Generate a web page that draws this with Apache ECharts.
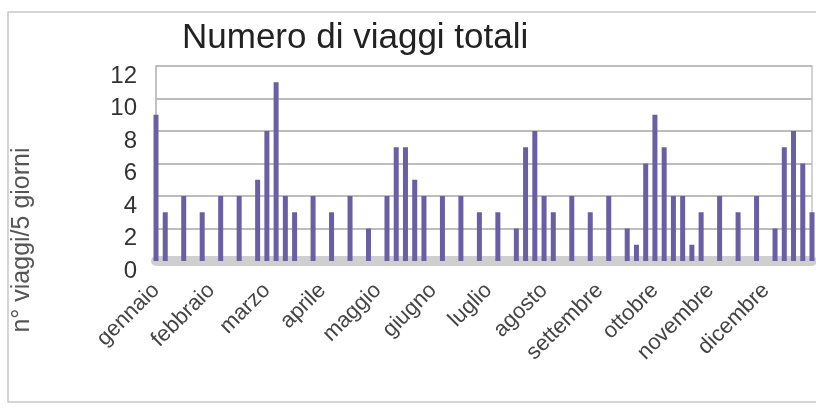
<!DOCTYPE html>
<html>
<head>
<meta charset="utf-8">
<script src="https://cdn.jsdelivr.net/npm/echarts@6/dist/echarts.min.js"></script>
<style>
  html, body { margin: 0; padding: 0; background: #fff; }
  #main { width: 816px; height: 410px; }
</style>
</head>
<body>
<div id="main"></div>
<script>
// mesi mostrati sull'asse (uno ogni 6 intervalli da 5 giorni)
var months = ['gennaio', 'febbraio', 'marzo', 'aprile', 'maggio', 'giugno',
  'luglio', 'agosto', 'settembre', 'ottobre', 'novembre', 'dicembre'];

// n° viaggi per ogni intervallo di 5 giorni
var viaggi = [9, 3, 0, 4, 0, 3, 0, 4, 0, 4, 0, 5, 8, 11, 4, 3, 0, 4, 0, 3, 0, 4, 0, 2,
  0, 4, 7, 7, 5, 4, 0, 4, 0, 4, 0, 3, 0, 3, 0, 2, 7, 8, 4, 3, 0, 4, 0, 3,
  0, 4, 0, 2, 1, 6, 9, 7, 4, 4, 1, 3, 0, 4, 0, 3, 0, 4, 0, 2, 7, 8, 6, 3];

var yTicks = [0, 2, 4, 6, 8, 10, 12];

var categories = viaggi.map(function (v, i) {
  return i % 6 === 0 ? months[i / 6] : '';
});

var chart = echarts.init(document.getElementById('main'), null, { renderer: 'canvas' });

var option = {
  backgroundColor: '#ffffff',
  animation: false,
  title: {
    text: 'Numero di viaggi totali',
    left: 177,
    top: 16,
    textStyle: {
      fontFamily: 'Liberation Sans',
      fontSize: 35,
      fontWeight: 'normal',
      color: '#222'
    }
  },
  graphic: [
    {
      type: 'rect',
      shape: { x: 8, y: 12, width: 830, height: 390 },
      style: { fill: 'none', stroke: '#c8c8c8', lineWidth: 1.5 },
      silent: true
    },
    {
      type: 'text',
      x: 22,
      y: 240,
      rotation: Math.PI / 2,
      style: {
        text: 'n° viaggi/5 giorni',
        fontFamily: 'Liberation Sans',
        fontSize: 25,
        fill: '#555',
        align: 'center',
        verticalAlign: 'middle'
      }
    }
  ],
  grid: {
    left: 156,
    right: 4,
    top: 66,
    bottom: 149,
    show: true,
    borderColor: '#c4c4c4',
    borderWidth: 1.5
  },
  xAxis: {
    type: 'category',
    data: categories,
    boundaryGap: false,
    axisLine: { show: true, lineStyle: { color: '#cfcfcf', width: 10 } },
    axisTick: { show: false },
    splitLine: { show: false },
    axisLabel: {
      interval: 0,
      rotate: 45,
      margin: 26,
      fontFamily: 'Liberation Sans',
      fontSize: 22,
      color: '#444'
    }
  },
  yAxis: {
    type: 'value',
    min: yTicks[0],
    max: yTicks[yTicks.length - 1],
    interval: 2,
    axisLine: { show: true, lineStyle: { color: '#bdbdbd', width: 1.5 } },
    axisTick: { show: false },
    splitLine: { show: true, lineStyle: { color: '#bdbdbd', width: 2 } },
    axisLabel: {
      margin: 19,
      fontFamily: 'Liberation Sans',
      fontSize: 24,
      color: '#333',
      verticalAlign: 'top',
      lineHeight: 20
    }
  },
  series: [{
    type: 'bar',
    data: viaggi,
    barWidth: 5,
    itemStyle: { color: '#6a5ea4' }
  }]
};

chart.setOption(option);
</script>
</body>
</html>
